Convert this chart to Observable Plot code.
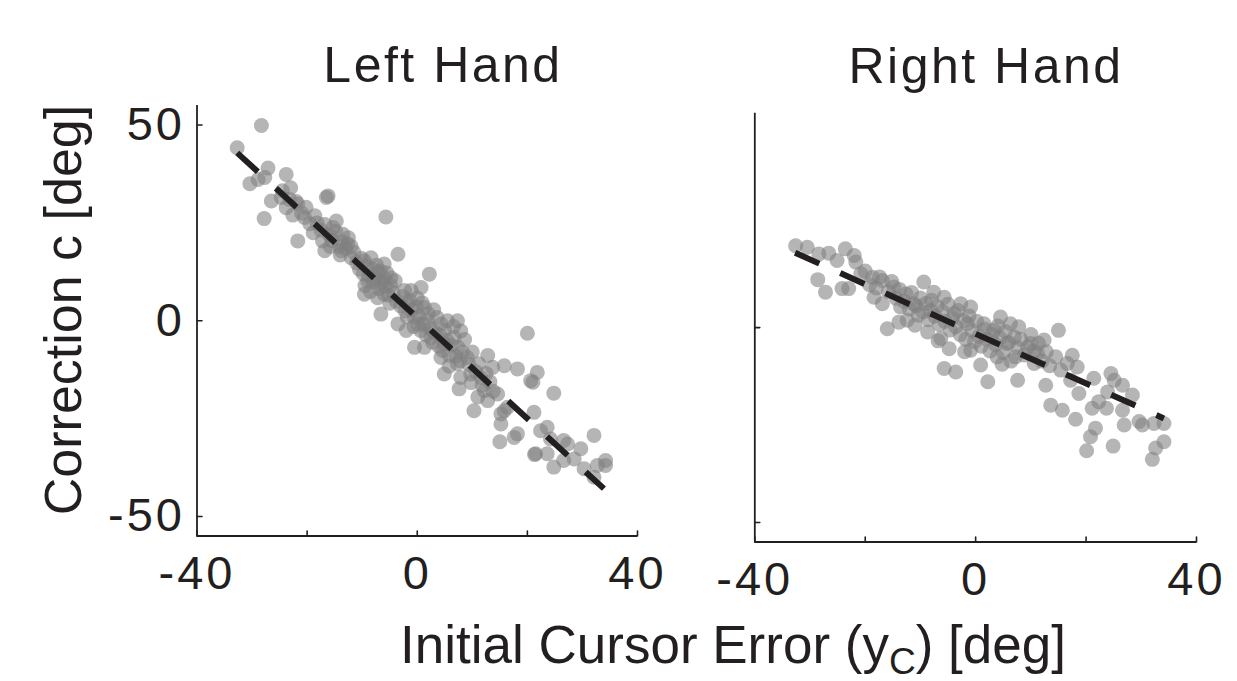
<!DOCTYPE html>
<html><head><meta charset="utf-8">
<script src="https://cdn.jsdelivr.net/npm/d3@7"></script>
<script src="https://cdn.jsdelivr.net/npm/@observablehq/plot@0.6"></script>
<style>
html,body{margin:0;padding:0;background:#fff;}
#chart{position:relative;width:1237px;height:681px;overflow:hidden;font-family:"Liberation Sans",Arial,sans-serif;color:#231f20;}
.lbl{position:absolute;white-space:nowrap;line-height:1;}
#chart svg text{letter-spacing:3px;}
</style></head><body><div id="chart"></div>
<script>
// ---- data ----
const xDomain = [-40, 40];
const yDomain = [-55, 55];
const xTicks = [-40, -20, 0, 20, 40];
const xTickLabels = [-40, 0, 40];
const leftYTicks = [-50, 0, 50];
const rightYTicks = [-50, 0];
const panelTitles = ["Left Hand", "Right Hand"];
const yAxisTitle = "Correction c [deg]";
const xAxisTitle = ["Initial Cursor Error (y", "C", ") [deg]"];

// [initial cursor error, correction]
const leftHandPoints = [
[-32.7,44.2],[-28.3,49.9],[-30.4,35.0],[-28.9,36.1],[-27.1,39.0],[-27.7,36.6],[-27.8,26.1],[-23.8,37.4],[-23.0,34.0],[-26.5,30.6],
[-24.7,31.5],[-23.8,28.9],[-21.7,29.8],[-20.5,26.4],[-21.7,20.4],[-18.6,26.8],[-18.9,22.5],[-16.5,31.5],[-16.2,31.9],[-16.8,17.9],
[-14.7,25.5],[-15.3,23.8],[-13.5,22.1],[-12.6,19.6],[-13.8,17.9],[-12.0,16.1],[-9.6,15.3],[-8.4,16.1],[-5.7,26.5],[-3.5,17.0],
[-6.0,14.5],[-7.2,12.3],[-6.0,11.0],[-4.8,11.0],[-6.6,9.4],[-9.0,10.2],[-9.6,6.8],[-7.2,5.9],[-6.6,1.7],[-3.5,-0.8],
[-2.3,7.7],[-1.1,7.7],[0.7,8.5],[2.2,11.9],[-1.7,4.3],[-0.5,0.8],[0.1,-0.8],[1.3,3.4],[1.9,0],[-0.5,-6.8],
[1.3,-6.8],[2.5,-4.3],[4.3,-0.8],[5.5,0],[7.3,0],[7.9,-2.6],[6.7,-4.3],[4.9,-5.9],[4.3,-9.4],[4.9,-13.6],
[7.3,-11.0],[7.9,-14.5],[7.6,-17.4],[9.1,-9.4],[9.7,-13.6],[11.5,-14.5],[12.8,-8.9],[13.7,-11.9],[15.8,-11.5],[18.2,-12.3],
[20.0,-3.2],[21.8,-13.2],[20.6,-15.3],[24.8,-18.5],[12.2,-17.9],[10.3,-23.0],[12.8,-20.4],[14.6,-18.7],[15.2,-23.8],[15.8,-23.0],
[15.2,-26.4],[16.4,-22.1],[18.2,-28.9],[17.6,-29.8],[15.0,-30.9],[21.2,-23.4],[22.4,-28.1],[21.5,-34.0],[23.6,-27.2],[24.2,-30.2],
[26.6,-30.6],[27.3,-31.5],[23.6,-34.0],[24.8,-37.4],[26.6,-35.7],[28.5,-35.3],[29.7,-32.7],[32.1,-29.3],[30.3,-37.8],[32.1,-40.0],
[32.7,-37.0],[34.2,-35.7],[34.2,-37.0],[21.0,-15.7],[21.3,-34.2],
[-24.5,33.2],[-23.2,31.0],[-22.0,30.5],[-21.0,27.5],[-20.2,29.0],[-22.6,27.0],[-19.5,24.8],
[-18.2,25.0],[-17.5,23.2],[-16.8,24.6],[-16.0,22.0],[-15.5,20.5],[-14.8,22.8],[-14.2,19.0],[-13.6,20.2],[-13.0,18.5],[-12.5,21.2],
[-15.8,19.0],[-17.2,20.4],[-12.0,19.0],[-14.0,16.8],[-11.5,17.5],
[-11.0,14.8],[-10.5,13.2],[-10.2,16.0],[-9.8,12.0],[-9.2,14.0],[-8.8,11.5],[-8.2,13.2],[-8.0,9.8],[-7.6,10.8],[-7.4,14.2],
[-7.0,8.2],[-6.8,12.8],[-6.3,10.0],[-5.8,8.8],[-5.5,12.2],[-5.2,6.5],[-4.8,9.0],[-4.4,7.2],[-4.0,10.2],[-3.8,5.0],
[-9.5,9.0],[-8.5,7.5],[-5.0,4.5],[-6.0,6.8],
[-3.0,3.8],[-2.6,6.2],[-2.2,2.5],[-1.8,1.0],[-1.4,5.2],[-1.0,2.8],[-0.6,-1.5],[-0.2,3.6],[0.3,1.2],[0.6,-2.5],
[0.9,4.6],[1.2,-1.0],[1.6,-3.6],[2.0,1.8],[2.4,-2.0],[2.8,-5.5],[3.2,-3.0],[3.6,0.8],[3.9,-6.5],[4.2,-3.8],
[4.6,-7.6],[5.0,-2.5],[5.4,-5.0],[5.8,-8.8],[6.2,-6.2],[6.6,-1.5],[7.0,-9.0],[7.4,-6.8],[7.8,-10.2],[8.2,-8.0],
[8.6,-4.8],[0.0,5.8],[-2.0,-2.5],[3.0,2.8],[5.8,-11.6],
[9.4,-11.2],[10.0,-8.0],[10.6,-13.0],[11.2,-11.0],[11.8,-16.5],[12.5,-13.5],[13.2,-15.6],[13.8,-18.0],[9.8,-15.8],[11.0,-19.5]
];

const rightHandPoints = [
[-32.6,21.0],[-30.5,20.6],[-28.4,18.9],[-26.6,19.1],[-23.6,20.2],[-22.0,18.5],[-21.7,16.8],[-25.1,17.2],[-28.6,12.3],[-27.2,9.1],
[-24.2,10.0],[-23.0,10.0],[-20.8,13.8],[-18.7,12.9],[-16.9,12.1],[-14.8,10.4],[-18.4,7.8],[-16.9,6.1],[-16.0,-0.3],[-13.6,5.3],
[-12.4,1.9],[-13.9,1.4],[-11.2,6.1],[-9.4,11.7],[-7.6,9.1],[-5.7,7.8],[-8.2,4.4],[-8.7,-1.1],[-6.3,-2.8],[-4.8,-5.4],
[-5.7,-10.5],[-3.6,-11.4],[-3.9,3.6],[-2.7,6.1],[-0.9,5.3],[-1.5,1.0],[-0.9,-5.8],[0.9,-9.6],[2.2,-13.9],[1.5,1.0],
[3.3,-0.7],[4.5,2.7],[6.3,1.0],[7.8,0.2],[5.7,-4.1],[3.9,-7.5],[7.2,-7.5],[7.6,-13.5],[10.0,-4.1],[11.2,-6.6],
[10.6,-9.2],[12.4,-3.2],[15.0,-0.7],[12.7,-14.8],[14.5,-7.5],[15.4,-10.9],[17.5,-7.1],[16.6,-9.2],[18.4,-10.1],[17.2,-13.5],
[18.7,-16.9],[13.6,-19.9],[15.7,-21.2],[18.1,-23.5],[21.4,-13.0],[21.1,-20.7],[22.3,-19.0],[23.9,-16.5],[24.5,-11.8],[25.1,-13.5],
[26.6,-14.8],[28.4,-17.3],[23.7,-20.7],[26.6,-21.2],[21.7,-25.8],[20.8,-28.0],[20.1,-31.6],[24.9,-30.4],[26.9,-25.0],[29.6,-24.1],
[30.2,-25.0],[32.3,-24.6],[34.1,-24.6],[34.1,-29.3],[32.6,-30.9],[32.0,-33.8],
[-20.0,14.5],[-19.2,11.0],[-18.0,10.2],[-17.4,13.0],[-15.8,9.2],[-15.2,11.8],[-14.4,7.5],[-13.8,9.8],[-13.0,6.8],[-12.6,8.6],
[-12.0,4.8],[-11.6,9.0],[-10.8,5.6],[-10.4,3.2],[-10.0,7.6],[-9.6,4.0],[-9.0,6.2],[-8.6,2.0],[-8.0,7.0],[-7.4,3.0],
[-7.0,5.4],[-6.6,0.8],[-6.0,4.2],[-5.6,1.6],[-5.0,6.0],[-4.6,-0.6],[-4.2,2.4],[-3.6,0.2],[-3.2,4.4],[-2.8,-1.8],
[-2.2,1.8],[-1.8,-3.0],[-1.2,3.0],[-0.6,-0.8],[-0.2,-3.6],[0.2,1.6],[0.6,-2.2],[1.0,-4.8],[1.6,-0.4],[2.0,-3.0],
[2.6,-6.0],[3.0,-1.8],[3.6,-4.4],[4.0,0.4],[4.4,-2.6],[5.0,-6.4],[5.4,-1.0],[6.0,-3.8],[6.4,-8.6],[7.0,-2.4],
[7.6,-5.2],[8.2,-3.0],[8.8,-7.0],[9.4,-5.0],[10.0,-1.8],[10.6,-6.0],[11.4,-4.0],[12.0,-8.6],[12.8,-6.2],[13.4,-9.8],
[-6.8,-3.4],[-2.0,-6.2],[4.8,-9.4],[-11.0,0.6]
];

// fitted regression lines (endpoints)
const leftFitX = [-32.7, 33.9];
const leftFitY = [42.9, -42.9];
const rightFitX = [-32.7, 34.1];
const rightFitY = [19.2, -23.3];

// ---- drawing ----
const ink = "#231f20";
const tickShapeUp = {draw(ctx, l) { ctx.moveTo(0, 0); ctx.lineTo(0, -l); }};

function panel({points, fitX, fitY, yTicks, showYLabels, width, height, margins, dash}) {
  const fit = fitX.map((x, i) => ({x, y: fitY[i]}));
  const marks = [
    Plot.dot(points, {x: d => d[0], y: d => d[1], r: 7.5, fill: "#7f7f7f", fillOpacity: 0.58, stroke: "none"}),
    Plot.line(fit, {x: "x", y: "y", stroke: ink, strokeWidth: 6, strokeDasharray: dash, strokeLinecap: "butt"}),
    Plot.ruleY([yDomain[0]], {stroke: ink, strokeWidth: 1.8}),
    Plot.ruleX([xDomain[0]], {stroke: ink, strokeWidth: 1.8}),
    Plot.vector(xTicks, {x: d => d, y: () => yDomain[0], length: 5, rotate: 0, anchor: "start", shape: tickShapeUp, stroke: ink, strokeWidth: 1.6}),
    Plot.vector(yTicks, {x: () => xDomain[0], y: d => d, length: 5, rotate: 90, anchor: "start", shape: tickShapeUp, stroke: ink, strokeWidth: 1.6}),
    Plot.axisX(xTickLabels, {tickSize: 0, tickPadding: 20, label: null, tickFormat: d => String(d), fontSize: 47, fill: ink})
  ];
  if (showYLabels) marks.push(Plot.axisY(yTicks, {tickSize: 0, tickPadding: 12, label: null, tickFormat: d => String(d), fontSize: 47, fill: ink}));
  return Plot.plot({
    width, height,
    marginLeft: margins[0], marginRight: margins[1], marginTop: margins[2], marginBottom: margins[3],
    x: {domain: xDomain, axis: null},
    y: {domain: yDomain, axis: null},
    style: {background: "transparent", overflow: "visible", fontFamily: "Liberation Sans, Arial, sans-serif", fontSize: "47px", color: ink},
    marks
  });
}

const chart = document.getElementById("chart");

const left = panel({points: leftHandPoints, fitX: leftFitX, fitY: leftFitY, yTicks: leftYTicks, showYLabels: true,
  width: 680, height: 610, margins: [196.5, 43, 105, 74.5], dash: "28,24.5"});
left.style.position = "absolute"; left.style.left = "0px"; left.style.top = "0px";
chart.appendChild(left);

const right = panel({points: rightHandPoints, fitX: rightFitX, fitY: rightFitY, yTicks: rightYTicks, showYLabels: false,
  width: 677, height: 620, margins: [194.3, 41, 112.7, 78.5], dash: "26.5,23"});
right.style.position = "absolute"; right.style.left = "560px"; right.style.top = "0px";
chart.appendChild(right);

function addLabel(html, css) {
  const d = document.createElement("div");
  d.className = "lbl";
  d.innerHTML = html;
  Object.assign(d.style, css);
  chart.appendChild(d);
  return d;
}
// titles
addLabel(panelTitles[0], {left: "443px", top: "39.7px", fontSize: "50px", letterSpacing: "2.5px", transform: "translateX(-50%)"});
addLabel(panelTitles[1], {left: "986px", top: "40.7px", fontSize: "50px", letterSpacing: "2.5px", transform: "translateX(-50%)"});
// y axis title
addLabel(yAxisTitle, {left: "62.5px", top: "310px", fontSize: "52px", transform: "translate(-50%,-50%) rotate(-90deg)"});
// x axis title
addLabel(`${xAxisTitle[0]}<span style="font-size:0.7em;position:relative;top:0.3em">${xAxisTitle[1]}</span>${xAxisTitle[2]}`,
  {left: "733px", top: "618px", fontSize: "53px", paddingBottom: "16px", transform: "translateX(-50%)"});
</script></body></html>
